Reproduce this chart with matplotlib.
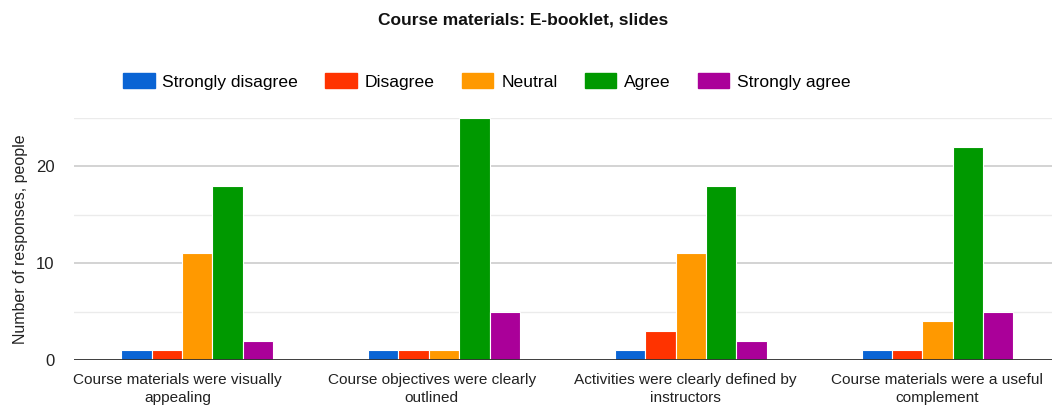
import numpy as np
import matplotlib.pyplot as plt
from matplotlib.patches import Patch

# -----------------------------
# Data
# -----------------------------
categories = [
    "Course materials were visually\nappealing",
    "Course objectives were clearly\noutlined",
    "Activities were clearly defined by\ninstructors",
    "Course materials were a useful\ncomplement",
]
series_names = ["Strongly disagree", "Disagree", "Neutral", "Agree", "Strongly agree"]
strongly_disagree = [1, 1, 1, 1]
disagree = [1, 1, 3, 1]
neutral = [11, 1, 11, 4]
agree = [18, 25, 18, 22]
strongly_agree = [2, 5, 2, 5]
colors = ["#0a64d4", "#ff3300", "#ff9900", "#009900", "#aa0099"]

TITLE = "Course materials: E-booklet, slides"
YLABEL = "Number of responses, people"

# label placement tweak (labels sit slightly left of the bar groups in the original)
LABEL_SHIFT = [-0.08, -0.05, -0.02, 0.0]


def main():
    plt.rcParams["font.family"] = ["Liberation Sans", "DejaVu Sans"]
    fig = plt.figure(figsize=(10.52, 4.08), dpi=100)
    ax = fig.add_axes([0.0703, 0.1176, 0.938, 0.594])

    values = [strongly_disagree, disagree, neutral, agree, strongly_agree]
    x = np.arange(len(categories))
    w = 0.123
    for i, (vals, c) in enumerate(zip(values, colors)):
        ax.bar(x + (i - 2) * w, vals, width=w, color=c,
               edgecolor="white", linewidth=0.8, zorder=3)

    ax.set_xlim(-0.5, len(categories) - 0.5)
    ax.set_ylim(0, 25)
    ax.set_yticks([0, 10, 20])
    ax.set_yticks([5, 15, 25], minor=True)
    ax.grid(axis="y", which="major", color="#cccccc", linewidth=1.2, zorder=0)
    ax.grid(axis="y", which="minor", color="#ebebeb", linewidth=1.0, zorder=0)
    ax.axhline(0, color="#333333", linewidth=1.3, zorder=4)
    for s in ax.spines.values():
        s.set_visible(False)
    ax.tick_params(axis="both", which="both", length=0)
    ax.tick_params(axis="y", labelsize=12, labelcolor="#222222", pad=14)
    ax.set_xticks(x + np.array(LABEL_SHIFT))
    ax.set_xticklabels(categories, fontsize=11.1, color="#222222", linespacing=1.45)
    ax.tick_params(axis="x", pad=9)
    ax.set_ylabel(YLABEL, fontsize=11.5, color="#222222", labelpad=6)

    fig.text(0.497, 0.95, TITLE, ha="center", va="center",
             fontsize=12.5, fontweight="bold", color="#111111")

    handles = [Patch(facecolor=c, edgecolor=c) for c in colors]
    fig.legend(handles, series_names, loc="center left",
               bbox_to_anchor=(0.102, 0.80), ncol=5, frameon=False,
               fontsize=12.6, handlelength=1.8, handleheight=0.95,
               columnspacing=1.55, handletextpad=0.45)

    fig.savefig("out.png", dpi=100)
    plt.close(fig)


if __name__ == "__main__":
    main()
